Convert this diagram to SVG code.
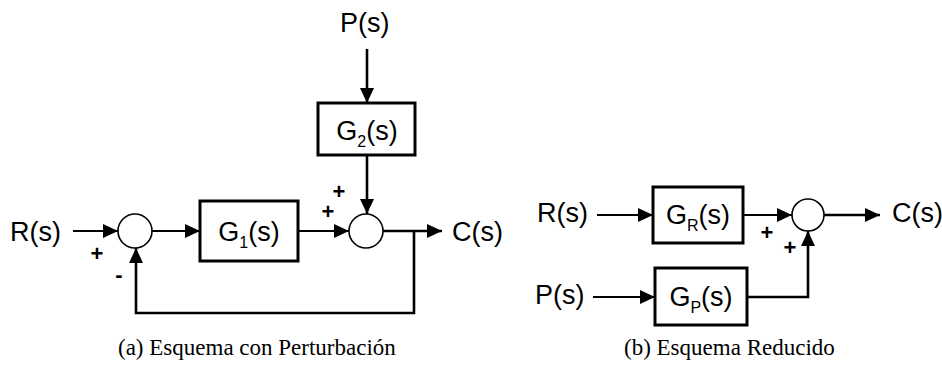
<svg xmlns="http://www.w3.org/2000/svg" width="942" height="367" viewBox="0 0 942 367">
<defs>
<marker id="ah" viewBox="0 0 15 14" refX="15" refY="7" markerWidth="15" markerHeight="14" markerUnits="userSpaceOnUse" orient="auto">
<path d="M0,0 L15,7 L0,14 Z" fill="#000"/>
</marker>
</defs>
<style>
.lbl{font-family:"Liberation Sans",Arial,sans-serif;font-size:27px;fill:#000}
.sub{font-size:16px}
.sgn{font-family:"Liberation Sans",Arial,sans-serif;font-size:22px;font-weight:bold;fill:#000;text-anchor:middle}
.cap{font-family:"Liberation Serif","Times New Roman",serif;font-size:23px;fill:#000}
.box{fill:#fff;stroke:#000;stroke-width:3}
.sum{fill:#fff;stroke:#000;stroke-width:1.6}
.ln{fill:none;stroke:#000;stroke-width:2}
.thk{fill:none;stroke:#000;stroke-width:2.6}
</style>
<rect width="942" height="367" fill="#fff"/>
<g id="connectors">
<line class="ln" x1="73" y1="231" x2="118" y2="231" marker-end="url(#ah)"/>
<line class="ln" x1="152" y1="231" x2="200" y2="231" marker-end="url(#ah)"/>
<line class="ln" x1="298" y1="231" x2="349" y2="231" marker-end="url(#ah)"/>
<line class="thk" x1="383" y1="231" x2="442" y2="231" marker-end="url(#ah)"/>
<path class="thk" d="M414,231 V313 H136 V248" marker-end="url(#ah)"/>
<line class="thk" x1="367" y1="49" x2="367" y2="103" marker-end="url(#ah)"/>
<line class="thk" x1="367" y1="155" x2="367" y2="214" marker-end="url(#ah)"/>
<line class="ln" x1="597" y1="215" x2="653" y2="215" marker-end="url(#ah)"/>
<line class="ln" x1="743" y1="215" x2="792" y2="215" marker-end="url(#ah)"/>
<line class="thk" x1="824" y1="215" x2="880" y2="215" marker-end="url(#ah)"/>
<line class="ln" x1="593" y1="297" x2="655" y2="297" marker-end="url(#ah)"/>
<path class="thk" d="M747,297 H808 V231" marker-end="url(#ah)"/>
</g>
<g id="R_a"><text class="lbl" x="10" y="241">R(s)</text></g>
<g id="sum1"><circle class="sum" cx="135" cy="231" r="17"/>
<text class="sgn" x="97" y="261">+</text><text class="sgn" x="119" y="282">-</text></g>
<g id="G1"><rect class="box" x="200" y="201" width="98" height="60"/>
<text class="lbl" x="249" y="241" text-anchor="middle">G<tspan class="sub" dy="7">1</tspan><tspan dy="-7">(s)</tspan></text></g>
<g id="sum2"><circle class="sum" cx="366" cy="231" r="17"/>
<text class="sgn" x="328" y="219">+</text><text class="sgn" x="339" y="199">+</text></g>
<g id="C_a"><text class="lbl" x="452" y="241">C(s)</text></g>
<g id="P_a"><text class="lbl" x="340" y="32">P(s)</text></g>
<g id="G2"><rect class="box" x="318" y="103" width="97" height="52"/>
<text class="lbl" x="367" y="140" text-anchor="middle">G<tspan class="sub" dy="7">2</tspan><tspan dy="-7">(s)</tspan></text></g>
<g id="R_b"><text class="lbl" x="537" y="222">R(s)</text></g>
<g id="GR"><rect class="box" x="653" y="187" width="90" height="56"/>
<text class="lbl" x="698" y="224" text-anchor="middle">G<tspan class="sub" dy="7">R</tspan><tspan dy="-7">(s)</tspan></text></g>
<g id="sum3"><circle class="sum" cx="808" cy="215" r="16"/>
<text class="sgn" x="767" y="240">+</text><text class="sgn" x="790" y="255">+</text></g>
<g id="C_b"><text class="lbl" x="892" y="222">C(s)</text></g>
<g id="P_b"><text class="lbl" x="535" y="304">P(s)</text></g>
<g id="GP"><rect class="box" x="655" y="268" width="92" height="57"/>
<text class="lbl" x="701" y="306" text-anchor="middle">G<tspan class="sub" dy="7">P</tspan><tspan dy="-7">(s)</tspan></text></g>
<text class="cap" x="118" y="355">(a) Esquema con Perturbación</text>
<text class="cap" x="624" y="355">(b) Esquema Reducido</text>
</svg>
